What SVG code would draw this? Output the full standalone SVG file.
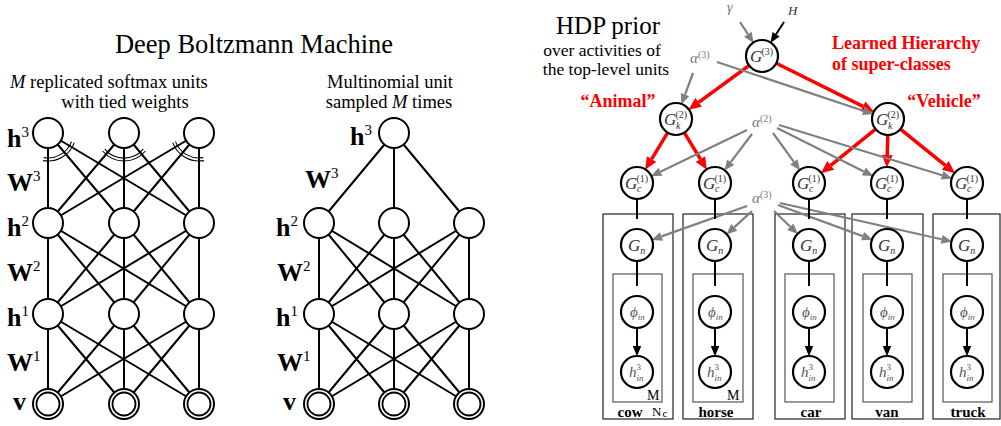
<svg xmlns="http://www.w3.org/2000/svg" width="1001" height="426" viewBox="0 0 1001 426">
<style>
.ln{stroke:#000;stroke-width:2;fill:none}
.arc{stroke:#000;stroke-width:1.1;fill:none}
.nd{fill:#fff;stroke:#000;stroke-width:2}
.dv{fill:none;stroke:#000;stroke-width:1.8}
.hn{fill:#fff;stroke:#000;stroke-width:2.2}
.bl{font-family:"Liberation Serif",serif;font-weight:bold;font-size:26px;fill:#000}
.sp{font-weight:normal;font-size:15px}
.tx{font-family:"Liberation Serif",serif;fill:#000}
.it{font-family:"Liberation Serif",serif;font-style:italic}
.rd{font-family:"Liberation Serif",serif;font-weight:bold;font-size:18px;fill:#f00}
.red{stroke:#f00;stroke-width:3.5;fill:none;marker-end:url(#mr)}
.gry{stroke:#808080;stroke-width:2.2;fill:none;marker-end:url(#mg)}
.blk{stroke:#000;stroke-width:2;fill:none;marker-end:url(#mb)}
.op{fill:none;stroke:#222;stroke-width:1.2}
.ip{fill:none;stroke:#555;stroke-width:1.2}
.g1{font-size:17px;fill:#333}
.g2{font-size:10px;fill:#333}
.p1{font-size:15px;fill:#555}
.p2{font-size:9px;fill:#555}
.lb{font-family:"Liberation Serif",serif;font-weight:bold;font-size:15px;fill:#000}
</style>
<defs>
<marker id="mr" markerUnits="userSpaceOnUse" markerWidth="13" markerHeight="12" refX="0" refY="6" orient="auto" overflow="visible"><path d="M0,0.5 L12.5,6 L0,11.5 z" fill="#f00"/></marker>
<marker id="mg" markerUnits="userSpaceOnUse" markerWidth="11" markerHeight="12" refX="0" refY="6" orient="auto" overflow="visible"><path d="M0,1.5 L10.5,6 L0,10.5 z" fill="#808080"/></marker>
<marker id="mb" markerUnits="userSpaceOnUse" markerWidth="11" markerHeight="12" refX="0" refY="6" orient="auto" overflow="visible"><path d="M0,1.8 L10.5,6 L0,10.2 z" fill="#000"/></marker>
</defs>
<rect width="1001" height="426" fill="#fff"/>

<!-- Titles -->
<text class="tx" x="254" y="53" font-size="26.5" text-anchor="middle">Deep Boltzmann Machine</text>
<text class="tx" x="10" y="88" font-size="18.5"><tspan font-style="italic">M</tspan> replicated softmax units</text>
<text class="tx" x="125" y="108" font-size="18.5" text-anchor="middle">with tied weights</text>
<text class="tx" x="390" y="88" font-size="18.5" text-anchor="middle">Multinomial unit</text>
<text class="tx" x="389" y="108" font-size="18.5" text-anchor="middle">sampled <tspan font-style="italic">M</tspan> times</text>
<text class="tx" x="608" y="34" font-size="25" text-anchor="middle">HDP prior</text>
<text class="tx" x="602" y="56" font-size="17.5" text-anchor="middle">over activities of</text>
<text class="tx" x="606" y="75" font-size="17.5" text-anchor="middle">the top-level units</text>
<text class="rd" x="832" y="49">Learned Hierarchy</text>
<text class="rd" x="832" y="70">of super-classes</text>
<text class="rd" x="618" y="107" text-anchor="middle">“Animal”</text>
<text class="rd" x="944" y="107" text-anchor="middle">“Vehicle”</text>

<!-- DBM layer labels -->
<g id="dbm-labels">
<text class="bl" x="7" y="147">h<tspan class="sp" dy="-10">3</tspan></text>
<text class="bl" x="7" y="191">W<tspan class="sp" dy="-10">3</tspan></text>
<text class="bl" x="7" y="236">h<tspan class="sp" dy="-10">2</tspan></text>
<text class="bl" x="7" y="281">W<tspan class="sp" dy="-10">2</tspan></text>
<text class="bl" x="7" y="326">h<tspan class="sp" dy="-10">1</tspan></text>
<text class="bl" x="7" y="371">W<tspan class="sp" dy="-10">1</tspan></text>
<text class="bl" x="13" y="410">v</text>
<text class="bl" x="350" y="145">h<tspan class="sp" dy="-10">3</tspan></text>
<text class="bl" x="305" y="188">W<tspan class="sp" dy="-10">3</tspan></text>
<text class="bl" x="276" y="236">h<tspan class="sp" dy="-10">2</tspan></text>
<text class="bl" x="277" y="281">W<tspan class="sp" dy="-10">2</tspan></text>
<text class="bl" x="276" y="326">h<tspan class="sp" dy="-10">1</tspan></text>
<text class="bl" x="277" y="371">W<tspan class="sp" dy="-10">1</tspan></text>
<text class="bl" x="283" y="410">v</text>
</g>

<!-- Plates -->
<g id="plates">
<rect class="op" x="603" y="214" width="70" height="205"/>
<rect class="op" x="683" y="214" width="70" height="205"/>
<rect class="op" x="775" y="214" width="70" height="205"/>
<rect class="op" x="852" y="214" width="71" height="205"/>
<rect class="op" x="933" y="214" width="67" height="205"/>
<rect class="ip" x="613" y="274" width="49" height="128"/>
<rect class="ip" x="693" y="274" width="50" height="128"/>
<rect class="ip" x="785" y="274" width="49" height="128"/>
<rect class="ip" x="863" y="274" width="49" height="128"/>
<rect class="ip" x="943" y="274" width="49" height="128"/>
<text class="tx" x="647" y="400" font-size="14">M</text>
<text class="tx" x="727" y="400" font-size="14">M</text>
<text class="tx" x="652" y="416" font-size="13">N<tspan font-size="11" dx="1" dy="1">c</tspan></text>
<text class="lb" x="630" y="417" text-anchor="middle">cow</text>
<text class="lb" x="716" y="417" text-anchor="middle">horse</text>
<text class="lb" x="811" y="417" text-anchor="middle">car</text>
<text class="lb" x="887" y="417" text-anchor="middle">van</text>
<text class="lb" x="968" y="417" text-anchor="middle">truck</text>
</g>

<!-- Connectors -->
<g id="connectors">
<path class="ln" d="M48,133L48,223M48,133L124,223M48,133L199,223M124,133L48,223M124,133L124,223M124,133L199,223M199,133L48,223M199,133L124,223M199,133L199,223
M48,223L48,314M48,223L124,314M48,223L199,314M124,223L48,314M124,223L124,314M124,223L199,314M199,223L48,314M199,223L124,314M199,223L199,314
M48,314L48,404M48,314L124,404M48,314L199,404M124,314L48,404M124,314L124,404M124,314L199,404M199,314L48,404M199,314L124,404M199,314L199,404"/>
<path class="ln" d="M394,133L319,223M394,133L394,223M394,133L469,223
M319,223L319,314M319,223L394,314M319,223L469,314M394,223L319,314M394,223L394,314M394,223L469,314M469,223L319,314M469,223L394,314M469,223L469,314
M319,314L319,404M319,314L394,404M319,314L469,404M394,314L319,404M394,314L394,404M394,314L469,404M469,314L319,404M469,314L394,404M469,314L469,404"/>
<path class="arc" d="M71.5,141.6A25,25 0 0 1 43.7,157.6M74.3,142.6A28,28 0 0 1 43.1,160.6"/>
<path class="arc" d="M143.2,149.1A25,25 0 0 1 104.8,149.1M145.4,151A28,28 0 0 1 102.6,151"/>
<path class="arc" d="M203.3,157.6A25,25 0 0 1 175.5,141.6M203.9,160.6A28,28 0 0 1 172.7,142.6"/>

<path class="red" d="M749.1,65.5L698.6,102.4"/>
<path class="red" d="M776.3,63.2L863,106.4"/>
<path class="red" d="M667.7,132.7L651.6,159.1"/>
<path class="red" d="M684.3,132.7L700.4,159.1"/>
<path class="red" d="M875.6,129.1L830.7,165.4"/>
<path class="red" d="M887.8,135L887.2,155"/>
<path class="red" d="M900.4,129.1L945.3,165.4"/>

<path class="blk" d="M784,22L776.1,34.2"/>
<path class="gry" d="M740,22L747.9,34.2"/>
<path class="gry" d="M693,73L685,94.6"/>
<path class="gry" d="M717,62L863.3,110.7"/>
<path class="gry" d="M747,130L660.4,171.7"/>
<path class="gry" d="M752,134L730.7,162.2"/>
<path class="gry" d="M773,133L793.9,161.9"/>
<path class="gry" d="M777,128L863.8,171.4"/>
<path class="gry" d="M779,125L942.1,175.3"/>
<path class="gry" d="M747,206L661.5,236.4"/>
<path class="gry" d="M752,211L734.2,227.4"/>
<path class="gry" d="M774,211L790.3,226.8"/>
<path class="gry" d="M778,205L862.6,236.1"/>
<path class="gry" d="M780,203L941.6,239.3"/>

<path class="blk" d="M637,199L637,219M637,261L637,286M637,328L637,346"/>
<path class="blk" d="M715,199L715,219M715,261L715,286M715,328L715,346"/>
<path class="blk" d="M809,199L809,219M809,261L809,286M809,328L809,346"/>
<path class="blk" d="M887,199L887,219M887,261L887,286M887,328L887,346"/>
<path class="blk" d="M967,199L967,219M967,261L967,286M967,328L967,346"/>
</g>

<!-- Hyperparameter labels -->
<g id="hyper">
<text class="it" x="727" y="12" font-size="14" fill="#777">γ</text>
<text class="it" x="788" y="15" font-size="13" fill="#333">H</text>
<text class="it" x="690" y="63" font-size="15" fill="#777">α<tspan font-style="normal" font-size="10" dy="-5">(3)</tspan></text>
<text class="it" x="752" y="127" font-size="15" fill="#777">α<tspan font-style="normal" font-size="10" dy="-5">(2)</tspan></text>
<text class="it" x="752" y="203" font-size="15" fill="#777">α<tspan font-style="normal" font-size="10" dy="-5">(3)</tspan></text>
</g>

<!-- DBM left nodes -->
<g id="L-h3-1"><circle class="nd" cx="48" cy="133" r="15"/></g>
<g id="L-h3-2"><circle class="nd" cx="124" cy="133" r="15"/></g>
<g id="L-h3-3"><circle class="nd" cx="199" cy="133" r="15"/></g>
<g id="L-h2-1"><circle class="nd" cx="48" cy="223" r="15"/></g>
<g id="L-h2-2"><circle class="nd" cx="124" cy="223" r="15"/></g>
<g id="L-h2-3"><circle class="nd" cx="199" cy="223" r="15"/></g>
<g id="L-h1-1"><circle class="nd" cx="48" cy="314" r="15"/></g>
<g id="L-h1-2"><circle class="nd" cx="124" cy="314" r="15"/></g>
<g id="L-h1-3"><circle class="nd" cx="199" cy="314" r="15"/></g>
<g id="L-v-1"><circle class="nd" cx="48" cy="404" r="15" stroke-width="1.8"/><circle class="dv" cx="48" cy="404" r="11.5"/></g>
<g id="L-v-2"><circle class="nd" cx="124" cy="404" r="15" stroke-width="1.8"/><circle class="dv" cx="124" cy="404" r="11.5"/></g>
<g id="L-v-3"><circle class="nd" cx="199" cy="404" r="15" stroke-width="1.8"/><circle class="dv" cx="199" cy="404" r="11.5"/></g>

<!-- DBM middle nodes -->
<g id="M-h3"><circle class="nd" cx="394" cy="133" r="15"/></g>
<g id="M-h2-1"><circle class="nd" cx="319" cy="223" r="15"/></g>
<g id="M-h2-2"><circle class="nd" cx="394" cy="223" r="15"/></g>
<g id="M-h2-3"><circle class="nd" cx="469" cy="223" r="15"/></g>
<g id="M-h1-1"><circle class="nd" cx="319" cy="314" r="15"/></g>
<g id="M-h1-2"><circle class="nd" cx="394" cy="314" r="15"/></g>
<g id="M-h1-3"><circle class="nd" cx="469" cy="314" r="15"/></g>
<g id="M-v-1"><circle class="nd" cx="319" cy="404" r="15" stroke-width="1.8"/><circle class="dv" cx="319" cy="404" r="11.5"/></g>
<g id="M-v-2"><circle class="nd" cx="394" cy="404" r="15" stroke-width="1.8"/><circle class="dv" cx="394" cy="404" r="11.5"/></g>
<g id="M-v-3"><circle class="nd" cx="469" cy="404" r="15" stroke-width="1.8"/><circle class="dv" cx="469" cy="404" r="11.5"/></g>

<!-- HDP nodes -->
<g id="G3"><circle class="hn" cx="762" cy="56" r="16"/><text class="it g1" x="750" y="62">G</text><text class="g2 tx" x="761.5" y="55" fill="#333">(3)</text></g>
<g id="Gk-animal"><circle class="hn" cx="676" cy="119" r="16"/><text class="it g1" x="664" y="125">G</text><text class="tx g2" x="675.5" y="118">(2)</text><text class="it g2" x="676" y="129">k</text></g>
<g id="Gk-vehicle"><circle class="hn" cx="888" cy="119" r="16"/><text class="it g1" x="876" y="125">G</text><text class="tx g2" x="887.5" y="118">(2)</text><text class="it g2" x="888" y="129">k</text></g>

<g id="Gc-cow"><circle class="hn" cx="637" cy="183" r="16"/><text class="it g1" x="625" y="189">G</text><text class="tx g2" x="636.5" y="182">(1)</text><text class="it g2" x="637" y="192">c</text></g>
<g id="Gc-horse"><circle class="hn" cx="715" cy="183" r="16"/><text class="it g1" x="703" y="189">G</text><text class="tx g2" x="714.5" y="182">(1)</text><text class="it g2" x="715" y="192">c</text></g>
<g id="Gc-car"><circle class="hn" cx="809" cy="183" r="16"/><text class="it g1" x="797" y="189">G</text><text class="tx g2" x="808.5" y="182">(1)</text><text class="it g2" x="809" y="192">c</text></g>
<g id="Gc-van"><circle class="hn" cx="887" cy="183" r="16"/><text class="it g1" x="875" y="189">G</text><text class="tx g2" x="886.5" y="182">(1)</text><text class="it g2" x="887" y="192">c</text></g>
<g id="Gc-truck"><circle class="hn" cx="967" cy="183" r="16"/><text class="it g1" x="955" y="189">G</text><text class="tx g2" x="966.5" y="182">(1)</text><text class="it g2" x="967" y="192">c</text></g>

<g id="Gn-cow"><circle class="hn" cx="637" cy="245" r="16"/><text class="it g1" x="628" y="251">G<tspan class="g2" dy="3">n</tspan></text></g>
<g id="Gn-horse"><circle class="hn" cx="715" cy="245" r="16"/><text class="it g1" x="706" y="251">G<tspan class="g2" dy="3">n</tspan></text></g>
<g id="Gn-car"><circle class="hn" cx="809" cy="245" r="16"/><text class="it g1" x="800" y="251">G<tspan class="g2" dy="3">n</tspan></text></g>
<g id="Gn-van"><circle class="hn" cx="887" cy="245" r="16"/><text class="it g1" x="878" y="251">G<tspan class="g2" dy="3">n</tspan></text></g>
<g id="Gn-truck"><circle class="hn" cx="967" cy="245" r="16"/><text class="it g1" x="958" y="251">G<tspan class="g2" dy="3">n</tspan></text></g>

<g id="phi-cow"><circle class="hn" cx="637" cy="312" r="16"/><text class="it p1" x="630" y="317">ϕ<tspan class="p2" dy="3">in</tspan></text></g>
<g id="phi-horse"><circle class="hn" cx="715" cy="312" r="16"/><text class="it p1" x="708" y="317">ϕ<tspan class="p2" dy="3">in</tspan></text></g>
<g id="phi-car"><circle class="hn" cx="809" cy="312" r="16"/><text class="it p1" x="802" y="317">ϕ<tspan class="p2" dy="3">in</tspan></text></g>
<g id="phi-van"><circle class="hn" cx="887" cy="312" r="16"/><text class="it p1" x="880" y="317">ϕ<tspan class="p2" dy="3">in</tspan></text></g>
<g id="phi-truck"><circle class="hn" cx="967" cy="312" r="16"/><text class="it p1" x="960" y="317">ϕ<tspan class="p2" dy="3">in</tspan></text></g>

<g id="h-cow"><circle class="hn" cx="637" cy="372" r="16"/><text class="it p1" x="629" y="377">h</text><text class="tx p2" x="636.5" y="370">3</text><text class="it p2" x="636.5" y="381">in</text></g>
<g id="h-horse"><circle class="hn" cx="715" cy="372" r="16"/><text class="it p1" x="707" y="377">h</text><text class="tx p2" x="714.5" y="370">3</text><text class="it p2" x="714.5" y="381">in</text></g>
<g id="h-car"><circle class="hn" cx="809" cy="372" r="16"/><text class="it p1" x="801" y="377">h</text><text class="tx p2" x="808.5" y="370">3</text><text class="it p2" x="808.5" y="381">in</text></g>
<g id="h-van"><circle class="hn" cx="887" cy="372" r="16"/><text class="it p1" x="879" y="377">h</text><text class="tx p2" x="886.5" y="370">3</text><text class="it p2" x="886.5" y="381">in</text></g>
<g id="h-truck"><circle class="hn" cx="967" cy="372" r="16"/><text class="it p1" x="959" y="377">h</text><text class="tx p2" x="966.5" y="370">3</text><text class="it p2" x="966.5" y="381">in</text></g>
</svg>
